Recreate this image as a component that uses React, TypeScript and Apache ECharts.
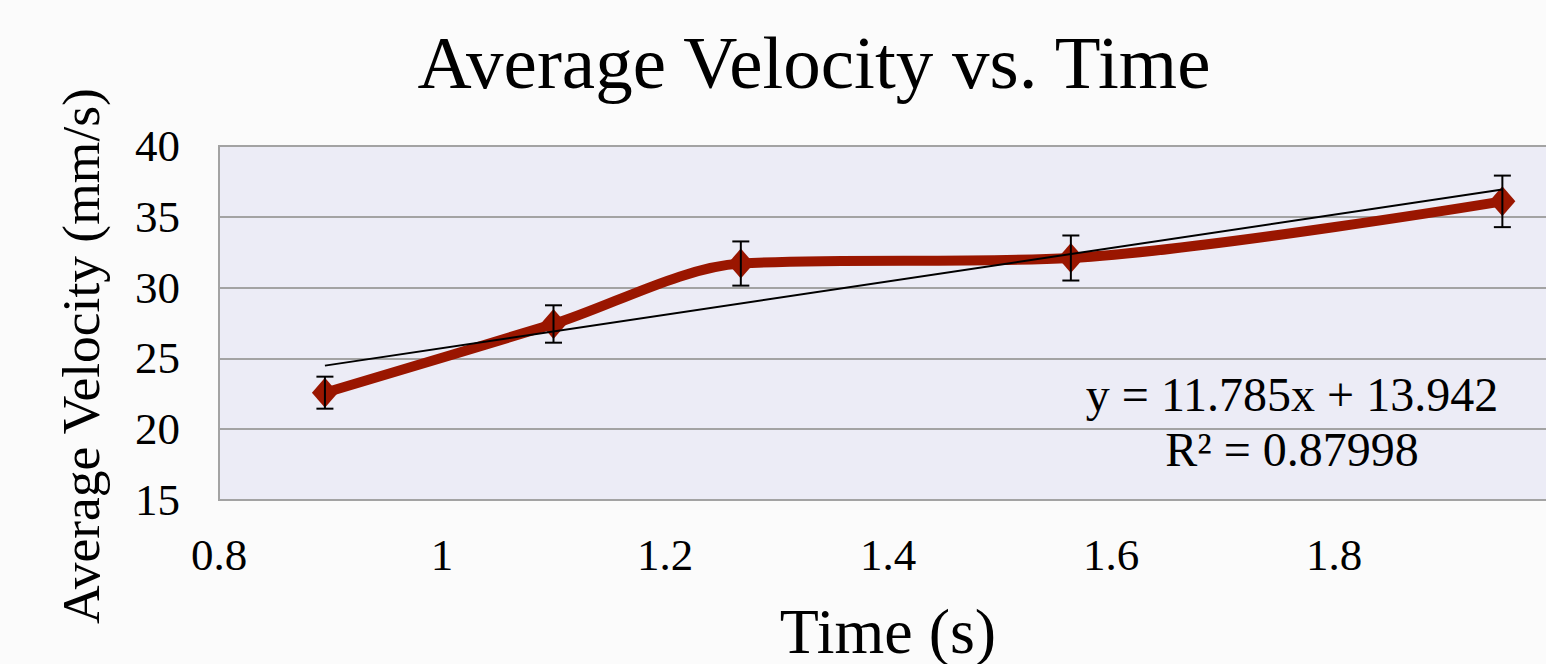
import React, { useEffect, useRef } from "react";
import * as echarts from "echarts";

// Data
const timeValues = [0.895, 1.1, 1.268, 1.564, 1.951];
const velocityValues = [22.58, 27.43, 31.7, 32.09, 36.09];
const errorValues = [1.13, 1.32, 1.56, 1.59, 1.82];
const trendX = [0.895, 1.951];
const trendY = [24.49, 36.93];
const equationLines = ["y = 11.785x + 13.942", "R² = 0.87998"];
const titleText = "Average Velocity vs. Time";
const xAxisTitle = "Time (s)";
const yAxisTitle = "Average Velocity (mm/s)";

const FONT = "'Liberation Serif', 'Times New Roman', serif";

export default function App() {
  const ref = useRef<HTMLDivElement>(null);

  useEffect(() => {
    if (!ref.current) return;
    const chart = echarts.init(ref.current, undefined, { renderer: "svg" });

    const mainData = timeValues.map((t, i) => [t, velocityValues[i]]);
    const errData = timeValues.map((t, i) => [t, velocityValues[i], errorValues[i]]);
    const trendData = trendX.map((t, i) => [t, trendY[i]]);

    chart.setOption({
      animation: false,
      backgroundColor: "#fbfbfb",
      textStyle: { fontFamily: FONT },
      grid: {
        left: 219,
        top: 146,
        width: 1338,
        height: 354,
        containLabel: false,
        outerBoundsMode: "none",
        show: true,
        backgroundColor: "#ececf6",
        borderColor: "#a3a3a3",
        borderWidth: 2,
      },
      xAxis: {
        type: "value",
        min: 0.8,
        max: 2.0,
        interval: 0.2,
        name: xAxisTitle,
        nameLocation: "middle",
        nameGap: 131,
        nameTextStyle: { fontFamily: FONT, fontSize: 64, color: "#000", verticalAlign: "middle" },
        axisLine: { show: false },
        axisTick: { show: false },
        splitLine: { show: false },
        axisLabel: {
          fontFamily: FONT,
          fontSize: 45,
          color: "#000",
          margin: 55,
          verticalAlign: "middle",
          showMaxLabel: false,
        },
      },
      yAxis: {
        type: "value",
        min: 15,
        max: 40,
        interval: 5,
        axisLine: { show: false },
        axisTick: { show: false },
        splitLine: { show: true, lineStyle: { color: "#a3a3a3", width: 2 } },
        axisLabel: {
          fontFamily: FONT,
          fontSize: 45,
          color: "#000",
          margin: 39,
          align: "right",
          verticalAlign: "middle",
        },
      },
      graphic: [
        {
          type: "text",
          x: 814,
          y: 62,
          style: {
            text: titleText,
            font: `75px ${FONT}`,
            fill: "#000",
            textAlign: "center",
            textVerticalAlign: "middle",
          },
        },
        {
          type: "text",
          x: 81,
          y: 356,
          rotation: Math.PI / 2,
          style: {
            text: yAxisTitle,
            font: `53.5px ${FONT}`,
            fill: "#000",
            textAlign: "center",
            textVerticalAlign: "middle",
          },
        },
        {
          type: "text",
          x: 1292,
          y: 422,
          z: 100,
          style: {
            text: equationLines.join("\n"),
            font: `48px ${FONT}`,
            lineHeight: 55,
            fill: "#000",
            textAlign: "center",
            textVerticalAlign: "middle",
          },
        },
      ],
      series: [
        {
          type: "line",
          data: mainData,
          smooth: 0.3,
          symbol: "diamond",
          symbolSize: [26, 30],
          lineStyle: { color: "#9a1600", width: 10 },
          itemStyle: { color: "#9a1600" },
          z: 2,
        },
        {
          type: "custom",
          data: errData,
          encode: { x: 0, y: 1 },
          z: 3,
          renderItem: (params: any, api: any) => {
            const x = api.value(0);
            const y = api.value(1);
            const e = api.value(2);
            const top = api.coord([x, y + e]);
            const bot = api.coord([x, y - e]);
            const hw = 8.5;
            const style = { stroke: "#000", lineWidth: 2 };
            return {
              type: "group",
              children: [
                { type: "line", shape: { x1: top[0], y1: top[1], x2: bot[0], y2: bot[1] }, style },
                { type: "line", shape: { x1: top[0] - hw, y1: top[1], x2: top[0] + hw, y2: top[1] }, style },
                { type: "line", shape: { x1: bot[0] - hw, y1: bot[1], x2: bot[0] + hw, y2: bot[1] }, style },
              ],
            };
          },
        },
        {
          type: "line",
          data: trendData,
          symbol: "none",
          lineStyle: { color: "#000", width: 2 },
          z: 4,
        },
      ],
    });

    return () => chart.dispose();
  }, []);

  return (
    <div
      style={{
        position: "fixed",
        left: 0,
        top: 0,
        width: 1546,
        height: 664,
        overflow: "hidden",
        background: "#fbfbfb",
      }}
    >
      <div ref={ref} style={{ width: 1570, height: 664 }} />
    </div>
  );
}
